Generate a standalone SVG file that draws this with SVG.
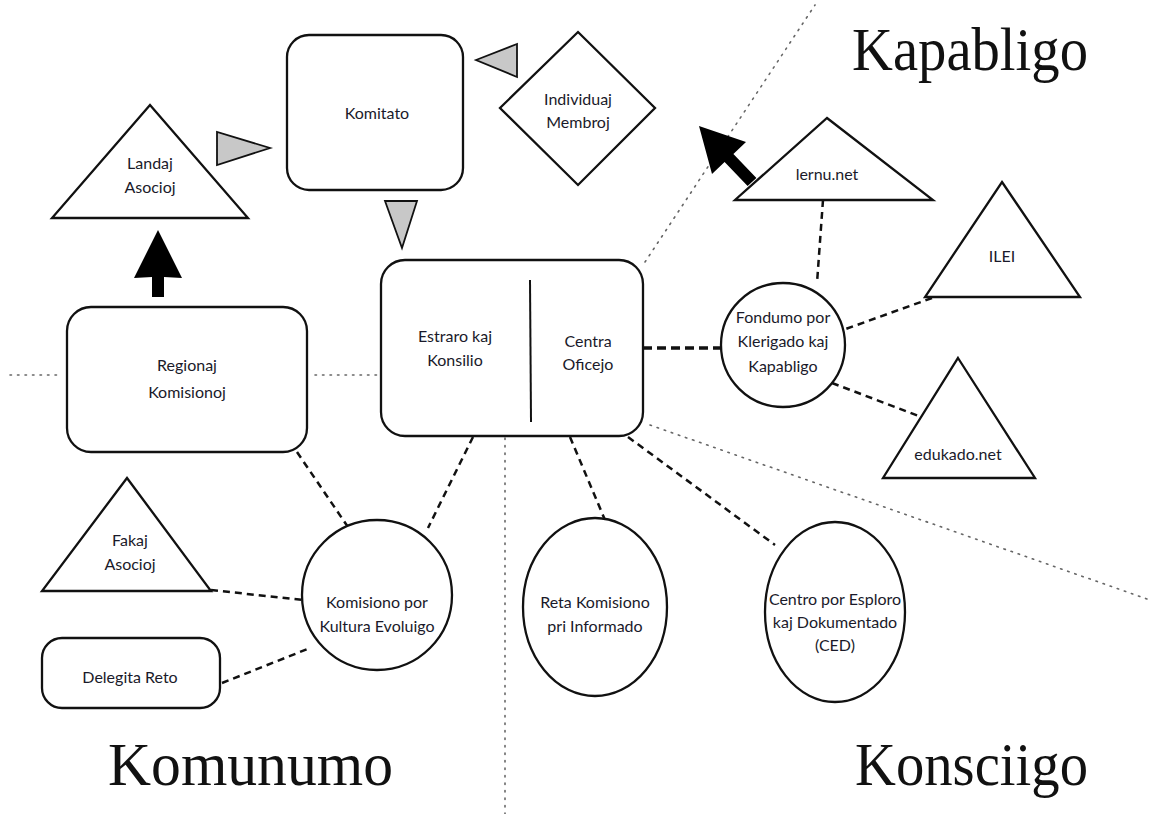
<svg xmlns="http://www.w3.org/2000/svg" width="1151" height="814" viewBox="0 0 1151 814">
<defs>
<style>
.shape{fill:#fff;stroke:#111;stroke-width:2.3}
.gray{fill:#c8c8c8;stroke:#111;stroke-width:1.8}
.lbl{font-family:"Lato","Open Sans","Liberation Sans",sans-serif;font-size:16px;fill:#1a1a2a;text-anchor:middle}
.title{font-family:"Liberation Serif","DejaVu Serif",serif;font-size:62px;fill:#111}
.dot{fill:none;stroke:#666;stroke-width:1.6;stroke-dasharray:1.5 6;stroke-linecap:round}
.dash{fill:none;stroke:#111;stroke-width:2.5;stroke-dasharray:7 5}
.thick{fill:none;stroke:#111;stroke-width:3.5;stroke-dasharray:9 5}
.arrow{fill:#000;stroke:none}
</style>
</defs>
<rect width="1151" height="814" fill="#fff"/>

<g id="region-dividers">
<line class="dot" x1="10" y1="375" x2="60" y2="375"/>
<line class="dot" x1="315" y1="375" x2="378" y2="375"/>
<line class="dot" x1="505" y1="438" x2="505" y2="814"/>
<line class="dot" x1="645" y1="262" x2="815" y2="5"/>
<line class="dot" x1="650" y1="425" x2="1150" y2="600"/>
</g>

<g id="connectors">
<line class="dash" x1="297" y1="452" x2="350" y2="530"/>
<line class="dash" x1="473" y1="437" x2="428" y2="528"/>
<line class="dash" x1="211" y1="590" x2="303" y2="600"/>
<line class="dash" x1="222" y1="683" x2="310" y2="648"/>
<line class="dash" x1="570" y1="437" x2="605" y2="520"/>
<line class="dash" x1="628" y1="437" x2="775" y2="545"/>
<line class="dash" x1="823" y1="200" x2="817" y2="283"/>
<line class="dash" x1="932" y1="298" x2="843" y2="330"/>
<line class="dash" x1="832" y1="383" x2="924" y2="418"/>
<line class="thick" x1="643" y1="348" x2="722" y2="348"/>
<polygon class="gray" points="217,132 217,165 270,148"/>
<polygon class="gray" points="385,201 417,201 402,248"/>
<polygon class="gray" points="476,60 517,44 517,77"/>
<polygon class="arrow" points="158,230 182,278 164,277 164,297 152,297 152,277 134,278"/>
<polygon class="arrow" points="699,126 746,142 733.4,153.9 756.4,177.9 747.6,186.1 724.6,162.1 712,174"/>
</g>

<g id="komitato">
<rect class="shape" x="287" y="35" width="176" height="155" rx="22"/>
<text class="lbl" x="377" y="119">Komitato</text>
</g>

<g id="landaj-asocioj">
<polygon class="shape" points="150,105 248,218 52,218"/>
<text class="lbl" x="150" y="169">Landaj</text>
<text class="lbl" x="150" y="193">Asocioj</text>
</g>

<g id="individuaj-membroj">
<polygon class="shape" points="578,32 655,108 578,185 500,108"/>
<text class="lbl" x="578" y="105">Individuaj</text>
<text class="lbl" x="578" y="128">Membroj</text>
</g>

<g id="lernu">
<polygon class="shape" points="827,118 933,200 735,200"/>
<text class="lbl" x="827" y="180">lernu.net</text>
</g>

<g id="ilei">
<polygon class="shape" points="1002,182 1080,297 925,297"/>
<text class="lbl" x="1002" y="262">ILEI</text>
</g>

<g id="fondumo">
<circle class="shape" cx="783" cy="345" r="62"/>
<text class="lbl" x="783" y="323">Fondumo por</text>
<text class="lbl" x="783" y="347">Klerigado kaj</text>
<text class="lbl" x="783" y="372">Kapabligo</text>
</g>

<g id="edukado">
<polygon class="shape" points="958,358 1035,478 883,478"/>
<text class="lbl" x="958" y="460">edukado.net</text>
</g>

<g id="estraro-centra">
<rect class="shape" x="381" y="260" width="262" height="176" rx="24"/>
<line x1="530" y1="280" x2="531" y2="422" stroke="#111" stroke-width="2"/>
<text class="lbl" x="455" y="342">Estraro kaj</text>
<text class="lbl" x="455" y="366">Konsilio</text>
<text class="lbl" x="588" y="347">Centra</text>
<text class="lbl" x="588" y="370">Oficejo</text>
</g>

<g id="regionaj">
<rect class="shape" x="67" y="307" width="240" height="145" rx="24"/>
<text class="lbl" x="187" y="371">Regionaj</text>
<text class="lbl" x="187" y="398">Komisionoj</text>
</g>

<g id="fakaj">
<polygon class="shape" points="127,478 211,591 42,591"/>
<text class="lbl" x="130" y="546">Fakaj</text>
<text class="lbl" x="130" y="570">Asocioj</text>
</g>

<g id="delegita">
<rect class="shape" x="42" y="638" width="178" height="70" rx="20"/>
<text class="lbl" x="130" y="683">Delegita Reto</text>
</g>

<g id="komisiono-kultura">
<ellipse class="shape" cx="377" cy="595" rx="75" ry="75"/>
<text class="lbl" x="377" y="608">Komisiono por</text>
<text class="lbl" x="377" y="632">Kultura Evoluigo</text>
</g>

<g id="reta-komisiono">
<ellipse class="shape" cx="595" cy="607" rx="72" ry="89"/>
<text class="lbl" x="595" y="608">Reta Komisiono</text>
<text class="lbl" x="595" y="632">pri Informado</text>
</g>

<g id="ced">
<ellipse class="shape" cx="835" cy="612" rx="70" ry="90"/>
<text class="lbl" x="835" y="605">Centro por Esploro</text>
<text class="lbl" x="835" y="628">kaj Dokumentado</text>
<text class="lbl" x="835" y="651">(CED)</text>
</g>

<g id="titles">
<text class="title" x="852" y="70" textLength="236" lengthAdjust="spacingAndGlyphs">Kapabligo</text>
<text class="title" x="108" y="785" textLength="285" lengthAdjust="spacingAndGlyphs">Komunumo</text>
<text class="title" x="855" y="785" textLength="233" lengthAdjust="spacingAndGlyphs">Konsciigo</text>
</g>
</svg>
